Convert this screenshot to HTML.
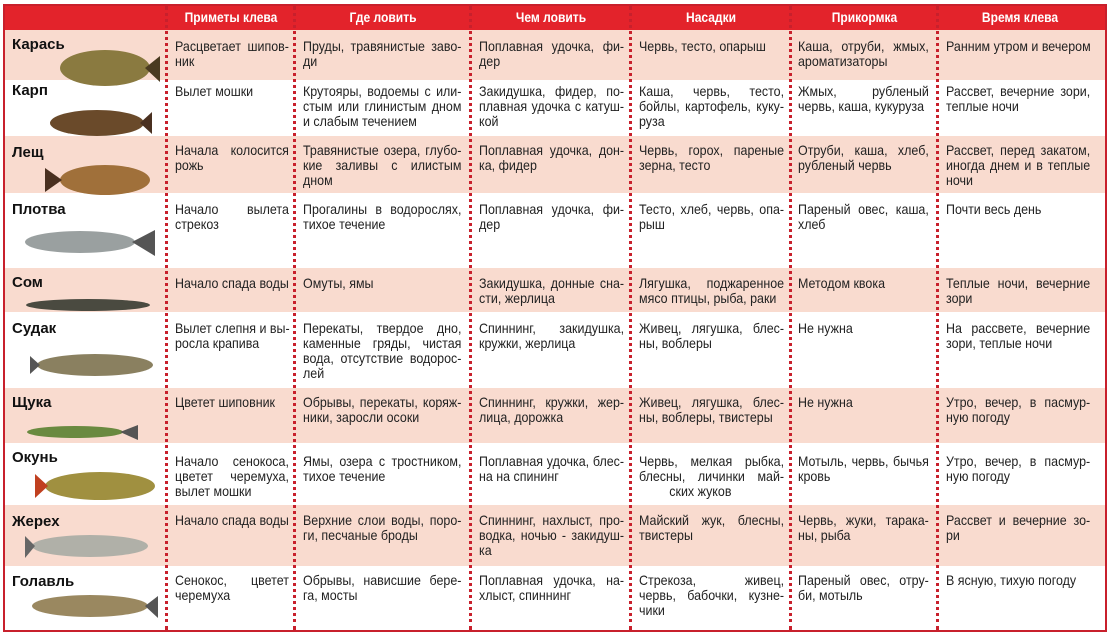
<!DOCTYPE html>
<html><head><meta charset="utf-8"><style>
body{margin:0;width:1111px;height:636px;background:#fff;position:relative;overflow:hidden;font-family:"Liberation Sans",sans-serif;}
.frame{position:absolute;left:3px;top:4px;width:1100px;height:624px;border:2px solid #c8202c;}
.hdr{position:absolute;left:5px;top:6px;width:1100px;height:24px;background:#e3232b;}
.row{position:absolute;left:5px;width:1100px;}
.pink{background:#f9dbcf;}
.v{position:absolute;top:6px;height:624px;border-left:3px dotted #c8202c;width:0;}
.h{position:absolute;color:#fff;font-weight:bold;font-size:14px;text-align:center;top:9px;transform:scaleX(.86);}
.c{position:absolute;font-size:14px;line-height:15px;color:#222;transform:scaleX(.89);transform-origin:0 0;white-space:nowrap;}
.c p{margin:0;}
.c p.j{text-align:justify;text-align-last:justify;}
.w1{width:128px}.w2{width:178px}.w3{width:163px}.w4{width:163px}.w5{width:147px}.w6{width:162px}
.n{position:absolute;left:12px;font-weight:bold;font-size:15px;color:#111;}
svg{position:absolute;}
</style></head><body>
<div class="hdr"></div>
<div class="row pink" style="top:30px;height:50px"></div>
<div class="row pink" style="top:136px;height:57px"></div>
<div class="row pink" style="top:268px;height:44px"></div>
<div class="row pink" style="top:388px;height:55px"></div>
<div class="row pink" style="top:505px;height:61px"></div>
<div class="frame"></div>
<div class="v" style="left:165px"></div><div class="v" style="left:293px"></div><div class="v" style="left:469px"></div><div class="v" style="left:629px"></div><div class="v" style="left:789px"></div><div class="v" style="left:936px"></div>
<div class="h" style="left:168px;width:126px">Приметы клева</div>
<div class="h" style="left:296px;width:174px">Где ловить</div>
<div class="h" style="left:472px;width:158px">Чем ловить</div>
<div class="h" style="left:632px;width:158px">Насадки</div>
<div class="h" style="left:792px;width:145px">Прикормка</div>
<div class="h" style="left:939px;width:162px">Время клева</div>

<div class="n" style="top:36px">Карась</div>
<div class="n" style="top:82px">Карп</div>
<div class="n" style="top:144px">Лещ</div>
<div class="n" style="top:201px">Плотва</div>
<div class="n" style="top:274px">Сом</div>
<div class="n" style="top:320px">Судак</div>
<div class="n" style="top:394px">Щука</div>
<div class="n" style="top:449px">Окунь</div>
<div class="n" style="top:513px">Жерех</div>
<div class="n" style="top:573px">Голавль</div>

<svg width="1111" height="636" style="left:0;top:0">
<g><ellipse cx="105" cy="68" rx="45" ry="18" fill="#8a7a40"/><polygon points="145,68 160,56 160,82" fill="#4a3a20"/></g>
<g><ellipse cx="97" cy="123" rx="47" ry="13" fill="#6a4a2a"/><polygon points="140,123 152,112 152,134" fill="#4a3020"/></g>
<g><ellipse cx="105" cy="180" rx="45" ry="15" fill="#a0703a"/><polygon points="62,180 45,168 45,192" fill="#4a3020"/></g>
<g><ellipse cx="80" cy="242" rx="55" ry="11" fill="#9aa0a0"/><polygon points="132,242 155,230 155,256" fill="#555"/></g>
<g><ellipse cx="88" cy="305" rx="62" ry="6" fill="#4a4a40"/></g>
<g><ellipse cx="95" cy="365" rx="58" ry="11" fill="#8a8060"/><polygon points="40,365 30,356 30,374" fill="#555"/></g>
<g><ellipse cx="75" cy="432" rx="48" ry="6" fill="#6a8a40"/><polygon points="120,432 138,425 138,440" fill="#555"/></g>
<g><ellipse cx="100" cy="486" rx="55" ry="14" fill="#a09040"/><polygon points="48,486 35,474 35,498" fill="#c04020"/></g>
<g><ellipse cx="90" cy="546" rx="58" ry="11" fill="#b0b0a8"/><polygon points="35,546 25,536 25,558" fill="#666"/></g>
<g><ellipse cx="90" cy="606" rx="58" ry="11" fill="#9a8860"/><polygon points="145,606 158,596 158,618" fill="#555"/></g>
</svg>

<div class="c w1" style="left:175px;top:39px"><p class="j">Расцветает шипов-</p><p>ник</p></div>
<div class="c w1" style="left:175px;top:84px"><p>Вылет мошки</p></div>
<div class="c w1" style="left:175px;top:143px"><p class="j">Начала колосится</p><p>рожь</p></div>
<div class="c w1" style="left:175px;top:202px"><p class="j">Начало вылета</p><p>стрекоз</p></div>
<div class="c w1" style="left:175px;top:276px"><p>Начало спада воды</p></div>
<div class="c w1" style="left:175px;top:321px"><p class="j">Вылет слепня и вы-</p><p>росла крапива</p></div>
<div class="c w1" style="left:175px;top:395px"><p>Цветет шиповник</p></div>
<div class="c w1" style="left:175px;top:454px"><p class="j">Начало сенокоса,</p><p class="j">цветет черемуха,</p><p>вылет мошки</p></div>
<div class="c w1" style="left:175px;top:513px"><p>Начало спада воды</p></div>
<div class="c w1" style="left:175px;top:573px"><p class="j">Сенокос, цветет</p><p>черемуха</p></div>

<div class="c w2" style="left:303px;top:39px"><p class="j">Пруды, травянистые заво-</p><p>ди</p></div>
<div class="c w2" style="left:303px;top:84px"><p class="j">Крутояры, водоемы с или-</p><p class="j">стым или глинистым дном</p><p>и слабым течением</p></div>
<div class="c w2" style="left:303px;top:143px"><p class="j">Травянистые озера, глубо-</p><p class="j">кие заливы с илистым</p><p>дном</p></div>
<div class="c w2" style="left:303px;top:202px"><p class="j">Прогалины в водорослях,</p><p>тихое течение</p></div>
<div class="c w2" style="left:303px;top:276px"><p>Омуты, ямы</p></div>
<div class="c w2" style="left:303px;top:321px"><p class="j">Перекаты, твердое дно,</p><p class="j">каменные гряды, чистая</p><p class="j">вода, отсутствие водорос-</p><p>лей</p></div>
<div class="c w2" style="left:303px;top:395px"><p class="j">Обрывы, перекаты, коряж-</p><p>ники, заросли осоки</p></div>
<div class="c w2" style="left:303px;top:454px"><p class="j">Ямы, озера с тростником,</p><p>тихое течение</p></div>
<div class="c w2" style="left:303px;top:513px"><p class="j">Верхние слои воды, поро-</p><p>ги, песчаные броды</p></div>
<div class="c w2" style="left:303px;top:573px"><p class="j">Обрывы, нависшие бере-</p><p>га, мосты</p></div>

<div class="c w3" style="left:479px;top:39px"><p class="j">Поплавная удочка, фи-</p><p>дер</p></div>
<div class="c w3" style="left:479px;top:84px"><p class="j">Закидушка, фидер, по-</p><p class="j">плавная удочка с катуш-</p><p>кой</p></div>
<div class="c w3" style="left:479px;top:143px"><p class="j">Поплавная удочка, дон-</p><p>ка, фидер</p></div>
<div class="c w3" style="left:479px;top:202px"><p class="j">Поплавная удочка, фи-</p><p>дер</p></div>
<div class="c w3" style="left:479px;top:276px"><p class="j">Закидушка, донные сна-</p><p>сти, жерлица</p></div>
<div class="c w3" style="left:479px;top:321px"><p class="j">Спиннинг, закидушка,</p><p>кружки, жерлица</p></div>
<div class="c w3" style="left:479px;top:395px"><p class="j">Спиннинг, кружки, жер-</p><p>лица, дорожка</p></div>
<div class="c w3" style="left:479px;top:454px"><p class="j">Поплавная удочка, блес-</p><p>на на спининг</p></div>
<div class="c w3" style="left:479px;top:513px"><p class="j">Спиннинг, нахлыст, про-</p><p class="j">водка, ночью - закидуш-</p><p>ка</p></div>
<div class="c w3" style="left:479px;top:573px"><p class="j">Поплавная удочка, на-</p><p>хлыст, спиннинг</p></div>

<div class="c w4" style="left:639px;top:39px"><p>Червь, тесто, опарыш</p></div>
<div class="c w4" style="left:639px;top:84px"><p class="j">Каша, червь, тесто,</p><p class="j">бойлы, картофель, куку-</p><p>руза</p></div>
<div class="c w4" style="left:639px;top:143px"><p class="j">Червь, горох, пареные</p><p>зерна, тесто</p></div>
<div class="c w4" style="left:639px;top:202px"><p class="j">Тесто, хлеб, червь, опа-</p><p>рыш</p></div>
<div class="c w4" style="left:639px;top:276px"><p class="j">Лягушка, поджаренное</p><p>мясо птицы, рыба, раки</p></div>
<div class="c w4" style="left:639px;top:321px"><p class="j">Живец, лягушка, блес-</p><p>ны, воблеры</p></div>
<div class="c w4" style="left:639px;top:395px"><p class="j">Живец, лягушка, блес-</p><p>ны, воблеры, твистеры</p></div>
<div class="c w4" style="left:639px;top:454px"><p class="j">Червь, мелкая рыбка,</p><p class="j">блесны, личинки май-</p><p style="padding-left:34px">ских жуков</p></div>
<div class="c w4" style="left:639px;top:513px"><p class="j">Майский жук, блесны,</p><p>твистеры</p></div>
<div class="c w4" style="left:639px;top:573px"><p class="j">Стрекоза, живец,</p><p class="j">червь, бабочки, кузне-</p><p>чики</p></div>

<div class="c w5" style="left:798px;top:39px"><p class="j">Каша, отруби, жмых,</p><p>ароматизаторы</p></div>
<div class="c w5" style="left:798px;top:84px"><p class="j">Жмых, рубленый</p><p>червь, каша, кукуруза</p></div>
<div class="c w5" style="left:798px;top:143px"><p class="j">Отруби, каша, хлеб,</p><p>рубленый червь</p></div>
<div class="c w5" style="left:798px;top:202px"><p class="j">Пареный овес, каша,</p><p>хлеб</p></div>
<div class="c w5" style="left:798px;top:276px"><p>Методом квока</p></div>
<div class="c w5" style="left:798px;top:321px"><p>Не нужна</p></div>
<div class="c w5" style="left:798px;top:395px"><p>Не нужна</p></div>
<div class="c w5" style="left:798px;top:454px"><p class="j">Мотыль, червь, бычья</p><p>кровь</p></div>
<div class="c w5" style="left:798px;top:513px"><p class="j">Червь, жуки, тарака-</p><p>ны, рыба</p></div>
<div class="c w5" style="left:798px;top:573px"><p class="j">Пареный овес, отру-</p><p>би, мотыль</p></div>

<div class="c w6" style="left:946px;top:39px"><p>Ранним утром и вечером</p></div>
<div class="c w6" style="left:946px;top:84px"><p class="j">Рассвет, вечерние зори,</p><p>теплые ночи</p></div>
<div class="c w6" style="left:946px;top:143px"><p class="j">Рассвет, перед закатом,</p><p class="j">иногда днем и в теплые</p><p>ночи</p></div>
<div class="c w6" style="left:946px;top:202px"><p>Почти весь день</p></div>
<div class="c w6" style="left:946px;top:276px"><p class="j">Теплые ночи, вечерние</p><p>зори</p></div>
<div class="c w6" style="left:946px;top:321px"><p class="j">На рассвете, вечерние</p><p>зори, теплые ночи</p></div>
<div class="c w6" style="left:946px;top:395px"><p class="j">Утро, вечер, в пасмур-</p><p>ную погоду</p></div>
<div class="c w6" style="left:946px;top:454px"><p class="j">Утро, вечер, в пасмур-</p><p>ную погоду</p></div>
<div class="c w6" style="left:946px;top:513px"><p class="j">Рассвет и вечерние зо-</p><p>ри</p></div>
<div class="c w6" style="left:946px;top:573px"><p>В ясную, тихую погоду</p></div>
</body></html>
